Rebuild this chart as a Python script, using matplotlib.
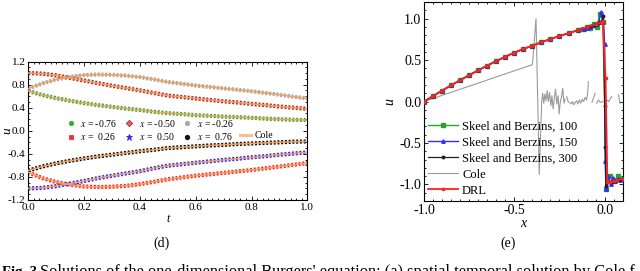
import numpy as np
import matplotlib
matplotlib.use("Agg")
import matplotlib.pyplot as plt
from matplotlib.lines import Line2D
from matplotlib.ticker import AutoMinorLocator, MultipleLocator, FormatStrFormatter

plt.rcParams['font.family'] = ['Liberation Serif', 'DejaVu Serif']
plt.rcParams['mathtext.fontset'] = 'stix'
plt.rcParams['axes.unicode_minus'] = False

# ---------------- panel (d): u(t) at fixed x ----------------
t_vals = [0.0, 0.05, 0.1, 0.15, 0.2, 0.25, 0.3, 0.35, 0.4, 0.45, 0.5,
          0.55, 0.6, 0.65, 0.7, 0.75, 0.8, 0.85, 0.9, 0.95, 1.0]
u_xm076 = [0.69, 0.62, 0.565, 0.52, 0.48, 0.445, 0.415, 0.385, 0.36, 0.33, 0.305,
           0.29, 0.27, 0.26, 0.245, 0.235, 0.225, 0.21, 0.20, 0.19, 0.185]
u_xm050 = [1.0, 0.99, 0.96, 0.915, 0.87, 0.825, 0.78, 0.74, 0.70, 0.655, 0.61,
           0.585, 0.56, 0.535, 0.51, 0.49, 0.465, 0.445, 0.42, 0.40, 0.38]
u_xm026 = [0.73, 0.82, 0.89, 0.935, 0.965, 0.975, 0.97, 0.955, 0.93, 0.89, 0.845,
           0.815, 0.785, 0.76, 0.735, 0.71, 0.685, 0.655, 0.625, 0.59, 0.56]
u_xp026 = [-0.72, -0.82, -0.89, -0.935, -0.965, -0.975, -0.97, -0.955, -0.925, -0.885, -0.84,
           -0.81, -0.78, -0.755, -0.73, -0.705, -0.68, -0.65, -0.62, -0.59, -0.56]
u_xp050 = [-1.0, -0.99, -0.96, -0.915, -0.87, -0.82, -0.78, -0.74, -0.70, -0.65, -0.605,
           -0.58, -0.555, -0.53, -0.505, -0.485, -0.46, -0.44, -0.415, -0.395, -0.375]
u_xp076 = [-0.69, -0.62, -0.565, -0.52, -0.48, -0.445, -0.415, -0.385, -0.355, -0.33, -0.30,
           -0.285, -0.27, -0.255, -0.245, -0.23, -0.22, -0.21, -0.20, -0.19, -0.185]
labels_d = ['-0.76', '-0.50', '-0.26', '0.26', '0.50', '0.76']

# ---------------- panel (e): u(x) ----------------
x_smooth = [-1.0, -0.95, -0.9, -0.85, -0.8, -0.75, -0.7, -0.65, -0.6, -0.55,
            -0.5, -0.45, -0.4, -0.35, -0.3, -0.25, -0.2, -0.15]
u_smooth = [0.0, 0.066, 0.132, 0.196, 0.258, 0.318, 0.377, 0.434, 0.489, 0.541,
            0.59, 0.635, 0.675, 0.715, 0.755, 0.79, 0.825, 0.86]

sb100_x_tail = [-0.12, -0.10, -0.08, -0.06, -0.044, -0.026, -0.01, 0.01, 0.03, 0.05, 0.075, 0.09, 0.10]
sb100_u_tail = [0.875, 0.905, 0.885, 0.94, 0.90, 1.06, 0.96, -1.06, -0.90, -0.96, -0.90, -0.93, -0.93]

sb150_x_tail = [-0.113, -0.1, -0.087, -0.073, -0.06, -0.047, -0.033, -0.02, -0.007, 0.0, 0.003,
                0.007, 0.02, 0.033, 0.047, 0.06, 0.073, 0.087, 0.1]
sb150_u_tail = [0.87, 0.89, 0.90, 0.91, 0.92, 0.93, 0.96, 1.08, 0.97, 0.70, -0.72,
                -1.05, -0.90, -1.0, -0.92, -0.96, -0.93, -0.945, -0.93]

sb300_x_tail = [-0.1, -0.08, -0.06, -0.04, -0.027, -0.013, -0.007, 0.0, 0.003, 0.007,
                0.013, 0.027, 0.04, 0.06, 0.08, 0.1]
sb300_u_tail = [0.895, 0.91, 0.925, 0.94, 0.955, 0.97, 1.03, -0.05, -0.55, -1.02,
                -0.975, -0.975, -0.965, -0.955, -0.945, -0.93]

drl_x_tail = [-0.1, -0.05, -0.02, -0.01, 0.005, 0.015, 0.03, 0.05, 0.07, 0.1]
drl_u_tail = [0.895, 0.93, 0.955, 0.97, 0.28, -0.97, -0.975, -0.96, -0.95, -0.93]

cole_x = [-1.0, -0.40, -0.38, -0.362, -0.348,
          -0.343, -0.337, -0.331, -0.325, -0.318, -0.312, -0.305, -0.298, -0.292,
          -0.285, -0.278, -0.272, -0.265, -0.258, -0.252, -0.246, -0.240, -0.232, -0.225, -0.219, np.nan,
          -0.210, -0.201, np.nan,
          -0.192, -0.185, -0.178, -0.170, -0.163, -0.155, -0.148, -0.140, -0.132, -0.124,
          -0.116, -0.108, -0.100, -0.094, -0.090, np.nan,
          -0.070, -0.062, -0.053, np.nan,
          -0.044, -0.035, -0.025, -0.011, np.nan,
          0.002, 0.012, 0.022, 0.030, 0.039, np.nan,
          0.076, 0.085]
cole_u = [0.0, 0.445, 1.0, -0.88, 0.02,
          0.10, -0.02, 0.09, 0.01, 0.13, 0.0, 0.11, -0.05, 0.07,
          -0.09, 0.05, 0.15, -0.03, 0.07, -0.15, -0.01, 0.04, 0.16, -0.02, 0.03, np.nan,
          0.06, -0.01, np.nan,
          -0.01, -0.03, 0.0, -0.04, -0.01, 0.01, -0.03, 0.02, -0.02, 0.03,
          0.0, 0.05, 0.02, 0.10, 0.24, np.nan,
          -0.01, 0.04, 0.10, np.nan,
          -0.02, 0.02, -0.01, 0.0, np.nan,
          -0.02, 0.02, 0.0, 0.03, 0.06, np.nan,
          0.08, -0.02]

# ---------------- figure ----------------
fig = plt.figure(figsize=(6.4, 2.71), dpi=100)

def style_axes(ax, fs):
    ax.tick_params(which='both', direction='in', top=True, right=True,
                   labelsize=fs, width=0.6, pad=2)
    ax.tick_params(which='major', length=3)
    ax.tick_params(which='minor', length=1.5)
    for s in ax.spines.values():
        s.set_linewidth(0.8)

# ---- panel (d)
ax1 = fig.add_axes([0.0442, 0.262, 0.436, 0.511])
series_d = [u_xm076, u_xm050, u_xm026, u_xp026, u_xp050, u_xp076]
cols_d = ['#33b033', '#b22a2a', '#a8a8a8', '#ff2a2a', '#2828ff', '#111111']
mk_d = ['o', 'D', 'o', 's', '*', 'o']
for u, c in zip(series_d, cols_d):
    ax1.plot(t_vals, u, color=c, lw=3.0, ls=(0, (0.5, 0.4)), solid_capstyle='butt',
             dash_capstyle='butt', zorder=2)
for u in series_d:
    ax1.plot(t_vals, u, color='#F0A060', lw=1.1, zorder=3)

ax1.set_xlim(0, 1.0)
ax1.set_ylim(-1.2, 1.2)
ax1.xaxis.set_major_locator(MultipleLocator(0.2))
ax1.yaxis.set_major_locator(MultipleLocator(0.4))
ax1.xaxis.set_minor_locator(AutoMinorLocator(10))
ax1.yaxis.set_minor_locator(AutoMinorLocator(4))
ax1.xaxis.set_major_formatter(FormatStrFormatter('%.1f'))
ax1.yaxis.set_major_formatter(FormatStrFormatter('%.1f'))
style_axes(ax1, 8)
ax1.set_xlabel('t', style='italic', fontsize=8.5, labelpad=1)
ax1.set_ylabel('u', style='italic', fontsize=9.5)
ax1.yaxis.set_label_coords(-0.055, 0.5)

handles = {}
for lab, c, m in zip(labels_d, cols_d, mk_d):
    handles[lab] = Line2D([], [], ls='none', marker=m, color=c,
                          markersize=3.2 if m != '*' else 4.5,
                          mfc=c if m != 'D' else '#d07070', mec=c, mew=0.6)
blank = Line2D([], [], ls='none', marker=None, alpha=0)
cole_h = Line2D([], [], color='#F8C090', lw=2.2)
order_h = [handles['-0.76'], handles['0.26'], handles['-0.50'], handles['0.50'],
           handles['-0.26'], handles['0.76'], blank, cole_h]
order_l = [r'$x$ = -0.76', r'$x$ =  0.26', r'$x$ = -0.50', r'$x$ =  0.50',
           r'$x$ = -0.26', r'$x$ =  0.76', '', 'Cole']
ax1.legend(order_h, order_l, ncol=4, loc='center', bbox_to_anchor=(0.505, 0.505),
           frameon=False, fontsize=7, handlelength=1.2, handletextpad=0.4,
           columnspacing=0.6, labelspacing=0.25, borderpad=0)

# ---- panel (e)
ax2 = fig.add_axes([0.6625, 0.2583, 0.3105, 0.734])
ax2.plot(cole_x, cole_u, color='#9a9a9a', lw=0.8, zorder=2, label='Cole')
ax2.plot(x_smooth + sb100_x_tail, u_smooth + sb100_u_tail, color='#2ca02c', lw=1.0,
         marker='s', ms=2.4, zorder=3, label='Skeel and Berzins, 100')
ax2.plot(x_smooth + sb150_x_tail, u_smooth + sb150_u_tail, color='#3030ff', lw=1.0,
         marker='^', ms=2.5, zorder=4, label='Skeel and Berzins, 150')
ax2.plot(x_smooth + sb300_x_tail, u_smooth + sb300_u_tail, color='#202020', lw=0.9,
         marker='o', ms=1.8, zorder=5, label='Skeel and Berzins, 300')
ax2.plot(x_smooth + drl_x_tail, u_smooth + drl_u_tail, color='#ff2020', lw=1.3,
         marker='s', ms=2.0, zorder=6, label='DRL')

ax2.set_xlim(-1.0, 0.1)
ax2.set_ylim(-1.2, 1.2)
ax2.xaxis.set_major_locator(MultipleLocator(0.5))
ax2.yaxis.set_major_locator(MultipleLocator(0.5))
ax2.xaxis.set_minor_locator(AutoMinorLocator(10))
ax2.yaxis.set_minor_locator(AutoMinorLocator(5))
ax2.xaxis.set_major_formatter(FormatStrFormatter('%.1f'))
ax2.yaxis.set_major_formatter(FormatStrFormatter('%.1f'))
style_axes(ax2, 10)
ax2.set_xlabel('x', style='italic', fontsize=10, labelpad=0)
ax2.set_ylabel('u', style='italic', fontsize=10, labelpad=2)

h2, l2 = ax2.get_legend_handles_labels()
order2 = ['Skeel and Berzins, 100', 'Skeel and Berzins, 150',
          'Skeel and Berzins, 300', 'Cole', 'DRL']
hmap = dict(zip(l2, h2))
ax2.legend([hmap[k] for k in order2], order2, loc='lower left',
           bbox_to_anchor=(0.0, 0.0), frameon=False, fontsize=9,
           handlelength=2.4, handletextpad=0.3, labelspacing=0.32,
           borderpad=0.0, borderaxespad=0.35)

# ---- captions
fig.text(162 / 640, 1 - 243 / 271, '(d)', ha='center', va='center', fontsize=10)
fig.text(508 / 640, 1 - 243 / 271, '(e)', ha='center', va='center', fontsize=10)
fig.text(0.003, -0.02, "Fig. 3", fontweight='bold', ha='left', va='baseline', fontsize=10.5)
fig.text(0.062, -0.02,
         "Solutions of the one-dimensional Burgers' equation: (a) spatial temporal solution by Cole f",
         ha='left', va='baseline', fontsize=11.8)

fig.savefig('out.png', dpi=100)
